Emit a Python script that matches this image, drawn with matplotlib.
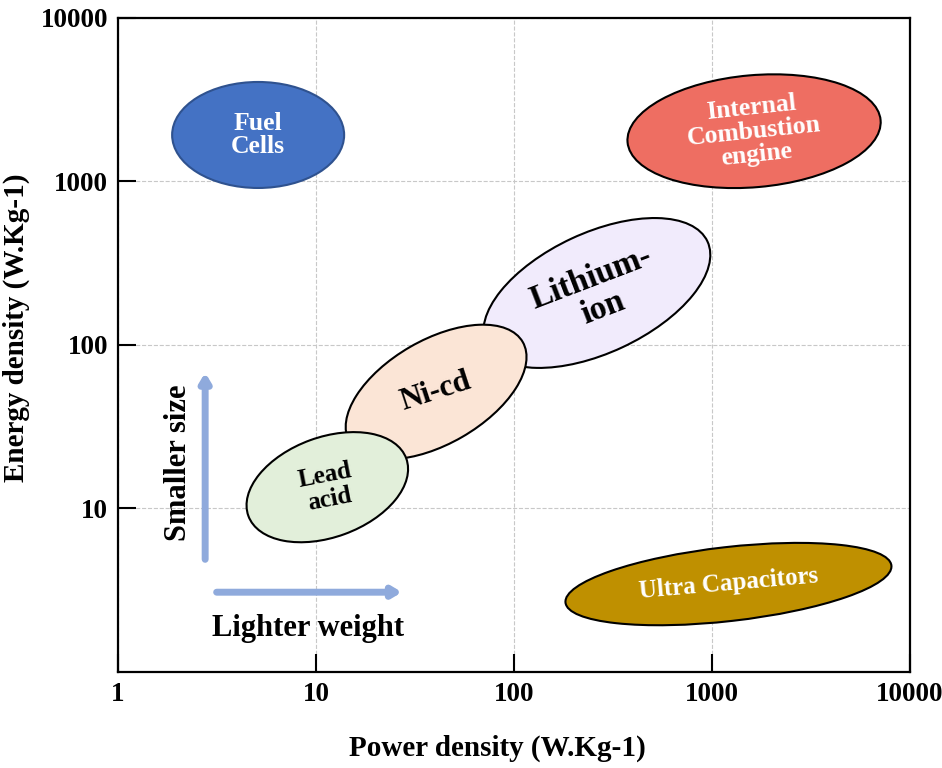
import numpy as np
import matplotlib
matplotlib.use("Agg")
import matplotlib.pyplot as plt
from matplotlib.patches import Ellipse
from matplotlib.transforms import IdentityTransform
from matplotlib.ticker import FixedLocator, FixedFormatter, NullLocator

# technologies: typical power density / energy density (W/kg, Wh/kg)
names = ["Fuel\nCells", "Internal\nCombustion\nengine", "Lithium-\nion",
         "Ni-cd", "Lead\nacid", "Ultra Capacitors"]
power = [5.1, 1630, 262, 40.4, 11.4, 1210]
energy = [1925, 2030, 208, 51.6, 13.5, 3.45]

x_ticks = [1, 10, 100, 1000, 10000]
y_ticks = [10, 100, 1000, 10000]
tick_text = ["1", "10", "100", "1000", "10000"]

# ellipse look: semi axes (px), angle, fill, edge, text colour, text size, text angle
shapes = [
    (86, 53, 0, "#4472C4", "#2F528F", "white", 18.5, 0),
    (127, 56, 5, "#EE6E62", "black", "white", 18.5, 6),
    (122, 60, 25, "#F1EBFC", "black", "black", 24, 21),
    (100, 52, 30, "#FBE5D6", "black", "black", 22.5, 18),
    (84, 50, 20, "#E2EFDA", "black", "black", 18, 11),
    (164, 37, 6.5, "#BF9000", "black", "white", 18, 5),
]

plt.rcParams["font.family"] = ["Liberation Serif", "DejaVu Serif"]
plt.rcParams["font.weight"] = "bold"

fig = plt.figure(figsize=(9.42, 7.68), dpi=100)
ax = fig.add_axes([0.1253, 0.125, 0.8408, 0.8516])
ax.set_xscale("log")
ax.set_yscale("log")
ax.set_xlim(1, 10000)
ax.set_ylim(1, 10000)

ax.xaxis.set_major_locator(FixedLocator(x_ticks))
ax.xaxis.set_major_formatter(FixedFormatter(tick_text))
ax.yaxis.set_major_locator(FixedLocator(y_ticks))
ax.yaxis.set_major_formatter(FixedFormatter(tick_text[1:]))
ax.xaxis.set_minor_locator(NullLocator())
ax.yaxis.set_minor_locator(NullLocator())
ax.tick_params(direction="in", length=13, width=1.5, labelsize=19.5, pad=7)
for s in ax.spines.values():
    s.set_linewidth(1.6)
ax.grid(True, linestyle="--", color="#c8c8c8", linewidth=0.8)
ax.set_axisbelow(True)

ax.set_xlabel("Power density (W.Kg-1)", fontsize=21, fontweight="bold", labelpad=20)
ax.set_ylabel("Energy density (W.Kg-1)", fontsize=21, fontweight="bold", labelpad=8)
ax.xaxis.label.set_x(0.479)
ax.yaxis.label.set_y(0.527)

for i in range(len(names)):
    a, b, ang, fc, ec, tc, fs, ta = shapes[i]
    cx, cy = ax.transData.transform((power[i], energy[i]))
    e = Ellipse((cx, cy), 2 * a, 2 * b, angle=ang, facecolor=fc, edgecolor=ec,
                linewidth=1.5, transform=IdentityTransform(), zorder=3)
    ax.add_patch(e)
    ax.text(power[i], energy[i], names[i], ha="center", va="center", color=tc,
            fontsize=fs, fontweight="bold", rotation=ta, linespacing=1.05,
            zorder=4)

# direction arrows
arrow_col = "#8FAADC"
ax.annotate("", xy=(0.110, 0.462), xytext=(0.110, 0.168), xycoords="axes fraction",
            arrowprops=dict(arrowstyle="-|>,head_length=0.5,head_width=0.3",
                            color=arrow_col, lw=5), zorder=2)
ax.annotate("", xy=(0.362, 0.122), xytext=(0.121, 0.122), xycoords="axes fraction",
            arrowprops=dict(arrowstyle="-|>,head_length=0.5,head_width=0.3",
                            color=arrow_col, lw=5), zorder=2)
ax.text(0.076, 0.320, "Smaller size", transform=ax.transAxes, rotation=90,
        ha="center", va="center", fontsize=22, fontweight="bold")
ax.text(0.240, 0.067, "Lighter weight", transform=ax.transAxes,
        ha="center", va="center", fontsize=22, fontweight="bold")

fig.savefig("out.png", dpi=100)
